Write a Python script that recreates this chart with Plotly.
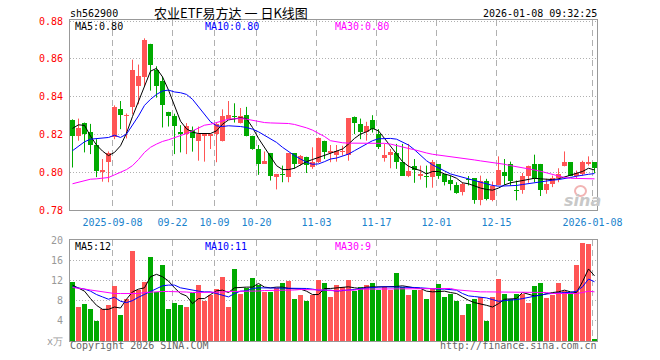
import plotly.graph_objects as go

# ---------------- data ----------------
opens = [0.8275,0.8193,0.8260,0.8214,0.8144,0.8000,0.8053,0.8184,0.8333,0.8298,
         0.8347,0.8456,0.8505,0.8680,0.8540,0.8484,0.8320,0.8298,0.8214,0.8202,
         0.8223,0.8165,0.8193,0.8193,0.8202,0.8165,0.8284,0.8293,0.8263,0.8302,
         0.8193,0.8123,0.8044,0.8102,0.7974,0.7991,0.7974,0.8100,0.8044,0.8082,
         0.8026,0.8053,0.8167,0.8100,0.8091,0.8105,0.8091,0.8295,0.8253,0.8214,
         0.8275,0.8202,0.8074,0.8091,0.8100,0.8053,0.7982,0.8035,0.7982,0.7982,
         0.7974,0.8042,0.7991,0.7960,0.7930,0.7895,0.7961,0.7968,0.7851,0.7953,
         0.7851,0.7930,0.8000,0.8044,0.7900,0.7904,0.7982,0.8044,0.8044,0.7904,
         0.7939,0.7968,0.8035,0.8053,0.7979,0.7991,0.8044,0.8053]
highs = [0.8280,0.8284,0.8263,0.8256,0.8175,0.8070,0.8110,0.8354,0.8377,0.8311,
         0.8596,0.8570,0.8709,0.8680,0.8561,0.8507,0.8320,0.8310,0.8249,0.8260,
         0.8242,0.8242,0.8205,0.8205,0.8260,0.8333,0.8377,0.8365,0.8340,0.8346,
         0.8193,0.8144,0.8110,0.8102,0.7991,0.8035,0.8100,0.8100,0.8091,0.8082,
         0.8132,0.8184,0.8167,0.8144,0.8144,0.8140,0.8286,0.8295,0.8284,0.8267,
         0.8302,0.8228,0.8150,0.8123,0.8150,0.8150,0.8150,0.8070,0.8035,0.8035,
         0.8065,0.8042,0.7991,0.7982,0.7947,0.7947,0.7980,0.7968,0.7982,0.7965,
         0.7951,0.8084,0.8070,0.8056,0.7956,0.7996,0.8035,0.8093,0.8044,0.7965,
         0.7982,0.8021,0.8110,0.8053,0.8009,0.8061,0.8084,0.8053]
lows = [0.8025,0.8167,0.8105,0.8096,0.7974,0.7950,0.7947,0.8175,0.8228,0.8179,
        0.8307,0.8360,0.8456,0.8432,0.8395,0.8237,0.8242,0.8096,0.8105,0.8096,
        0.8109,0.8061,0.8056,0.8123,0.8053,0.8163,0.8281,0.8263,0.8258,0.8190,
        0.8119,0.7986,0.8044,0.7956,0.7909,0.7947,0.7947,0.8018,0.8035,0.7996,
        0.8018,0.8049,0.8070,0.8053,0.8056,0.8088,0.8061,0.8202,0.8175,0.8167,
        0.8210,0.8123,0.8056,0.8021,0.8018,0.7982,0.7974,0.7944,0.7961,0.7918,
        0.7918,0.7965,0.7930,0.7904,0.7886,0.7877,0.7930,0.7833,0.7825,0.7851,
        0.7846,0.7930,0.7933,0.7930,0.7851,0.7886,0.7944,0.7947,0.7874,0.7886,
        0.7921,0.7947,0.8031,0.7979,0.7968,0.7982,0.8035,0.7996]
closes = [0.8193,0.8233,0.8202,0.8144,0.8004,0.8014,0.8100,0.8347,0.8302,0.8303,
          0.8539,0.8509,0.8698,0.8567,0.8456,0.8354,0.8300,0.8244,0.8200,0.8246,
          0.8179,0.8202,0.8205,0.8205,0.8254,0.8300,0.8302,0.8290,0.8298,0.8193,
          0.8123,0.8044,0.8061,0.7982,0.7991,0.7986,0.8100,0.8044,0.8088,0.8039,
          0.8053,0.8181,0.8105,0.8114,0.8114,0.8114,0.8286,0.8260,0.8214,0.8246,
          0.8228,0.8135,0.8091,0.8105,0.8053,0.7982,0.8004,0.8014,0.7993,0.7975,
          0.8056,0.7982,0.7947,0.7939,0.7891,0.7939,0.7958,0.7851,0.7956,0.7860,
          0.7925,0.8012,0.7982,0.7951,0.7898,0.7982,0.8035,0.7965,0.7904,0.7939,
          0.7968,0.7991,0.8056,0.7982,0.7996,0.8053,0.8053,0.8021]
ma5 = [0.8232,0.8251,0.8248,0.8191,0.8144,0.8112,0.8088,0.8105,0.8140,0.8207,
       0.8295,0.8372,0.8458,0.8535,0.8550,0.8505,0.8435,0.8353,0.8270,0.8230,
       0.8212,0.8205,0.8205,0.8205,0.8219,0.8254,0.8277,0.8284,0.8288,0.8284,
       0.8237,0.8179,0.8132,0.8084,0.8035,0.8014,0.8014,0.8021,0.8039,0.8056,
       0.8067,0.8079,0.8091,0.8100,0.8114,0.8123,0.8149,0.8179,0.8202,0.8214,
       0.8232,0.8219,0.8179,0.8140,0.8096,0.8056,0.8032,0.8018,0.8009,0.7991,
       0.8004,0.8004,0.7991,0.7982,0.7968,0.7944,0.7939,0.7926,0.7916,0.7909,
       0.7905,0.7916,0.7933,0.7944,0.7951,0.7958,0.7965,0.7968,0.7965,0.7963,
       0.7961,0.7965,0.7975,0.7982,0.7995,0.8004,0.8021,0.8012]
ma10 = [0.8114,0.8140,0.8161,0.8175,0.8179,0.8179,0.8184,0.8196,0.8184,0.8202,
        0.8249,0.8298,0.8354,0.8386,0.8412,0.8430,0.8435,0.8425,0.8421,0.8412,
        0.8386,0.8347,0.8304,0.8267,0.8246,0.8242,0.8246,0.8246,0.8242,0.8237,
        0.8228,0.8214,0.8196,0.8179,0.8158,0.8132,0.8109,0.8088,0.8070,0.8053,
        0.8042,0.8044,0.8056,0.8070,0.8075,0.8084,0.8096,0.8114,0.8132,0.8149,
        0.8167,0.8177,0.8179,0.8179,0.8175,0.8161,0.8144,0.8119,0.8091,0.8061,
        0.8039,0.8021,0.8007,0.7991,0.7982,0.7975,0.7965,0.7954,0.7944,0.7935,
        0.7930,0.7926,0.7926,0.7926,0.7930,0.7935,0.7940,0.7947,0.7951,0.7954,
        0.7958,0.7961,0.7965,0.7972,0.7979,0.7986,0.7989,0.7993]
ma30 = [0.7939,0.7947,0.7956,0.7963,0.7965,0.7967,0.7972,0.7986,0.8000,0.8014,
        0.8035,0.8067,0.8105,0.8132,0.8149,0.8163,0.8172,0.8182,0.8193,0.8205,
        0.8219,0.8233,0.8249,0.8254,0.8263,0.8272,0.8281,0.8283,0.8284,0.8281,
        0.8274,0.8268,0.8263,0.8261,0.8260,0.8260,0.8258,0.8253,0.8246,0.8235,
        0.8223,0.8207,0.8189,0.8167,0.8160,0.8156,0.8154,0.8154,0.8154,0.8154,
        0.8154,0.8154,0.8153,0.8149,0.8140,0.8133,0.8126,0.8119,0.8109,0.8102,
        0.8095,0.8091,0.8088,0.8084,0.8081,0.8075,0.8070,0.8065,0.8060,0.8056,
        0.8053,0.8049,0.8042,0.8035,0.8030,0.8023,0.8018,0.8012,0.8005,0.7996,
        0.7986,0.7979,0.7972,0.7968,0.7967,0.7965,0.7965,0.7965]
volumes = [11.67,6.8,7.4,6.27,4.0,6.4,7.07,10.87,5.2,8.3,
           17.87,10.07,11.67,16.6,9.73,15.07,6.4,7.6,7.07,6.8,
           9.6,11.07,7.87,9.2,10.27,12.6,6.8,14.2,9.4,10.53,
           12.4,11.07,9.73,9.73,10.53,11.47,11.87,8.4,9.2,7.87,
           9.2,12.0,11.4,8.67,11.0,10.67,12.0,9.93,10.67,11.0,
           11.4,10.07,10.67,10.07,13.47,10.73,9.2,10.07,10.07,8.4,
           10.2,11.2,8.8,9.4,8.0,5.2,7.4,8.4,8.73,4.0,
           8.73,12.2,9.4,8.4,9.4,9.4,7.6,10.8,11.4,8.6,
           9.2,11.4,10.0,9.6,15.0,19.4,19.2,0.4]
vma5 = [11.07,10.4,9.87,8.4,7.07,6.27,6.27,6.73,6.53,8.27,
        9.73,10.27,10.53,12.73,13.2,12.73,11.87,10.53,9.4,8.93,
        7.4,8.4,8.4,9.2,9.93,10.07,9.6,10.53,10.67,10.67,
        10.67,11.4,10.67,10.53,10.67,10.67,10.4,10.4,10.27,9.87,
        9.2,9.2,10.4,10.4,10.53,10.73,10.73,10.53,10.4,10.67,
        10.67,10.67,10.67,10.67,10.8,10.93,10.67,10.53,10.4,9.87,
        9.73,9.87,9.87,9.6,9.4,8.73,8.07,7.6,7.4,7.07,
        6.73,7.4,8.27,8.27,8.4,9.6,9.2,8.93,9.07,9.4,
        9.6,9.73,10.07,9.73,9.6,11.73,14.27,12.9]
vma10 = [10.73,10.53,10.27,9.87,9.2,8.73,8.27,8.67,7.87,7.6,
         8.0,8.67,9.2,9.73,10.4,10.93,11.07,11.07,10.53,10.27,
         10.07,9.87,9.73,9.73,9.4,9.07,8.73,9.4,9.87,9.93,
         10.4,10.53,10.53,10.53,10.53,10.53,10.53,10.53,10.53,10.4,
         10.27,10.07,10.07,10.07,9.87,9.93,10.0,10.2,10.4,10.53,
         10.67,10.67,10.73,10.73,10.73,10.73,10.67,10.6,10.53,10.4,
         10.27,10.27,10.27,10.2,10.07,9.4,8.93,8.8,8.73,8.53,
         8.2,7.87,8.0,8.07,8.2,8.4,8.67,8.8,9.07,9.33,
         9.4,9.53,9.6,9.6,9.87,10.73,12.27,11.73]
vma30 = [10.6,10.5,10.3,10.1,9.9,9.7,9.5,9.4,9.4,9.4,
         9.4,9.4,9.6,9.7,9.8,9.8,9.8,9.8,9.7,9.7,
         9.6,9.6,9.6,9.6,9.7,9.7,9.8,9.8,9.8,9.9,
         9.9,9.9,10.0,10.0,10.0,10.1,10.1,10.1,10.2,10.2,
         10.2,10.2,10.1,10.0,9.93,10.07,10.07,10.07,10.27,10.27,
         10.27,10.27,10.27,10.27,10.27,10.27,10.27,10.27,10.27,10.4,
         10.4,10.4,10.4,10.4,10.13,10.0,9.87,9.73,9.73,9.73,
         9.73,9.73,9.73,9.73,9.73,9.73,9.6,9.6,9.6,9.6,
         9.4,9.4,9.4,9.4,9.4,9.6,9.87,9.73]
tick_index = [7, 17, 24, 31, 41, 51, 61, 71, 87]
tick_labels = ["2025-09-08", "09-22", "10-09", "10-20", "11-03", "11-17", "12-01", "12-15", "2026-01-08"]
price_ticks = [0.78, 0.80, 0.82, 0.84, 0.86, 0.88]
volume_ticks = [0, 4, 8, 12, 16, 20]
volume_tick_labels = ["x万", "4", "8", "12", "16", "20"]
title_code = "sh562900"
title_name = "农业ETF易方达 一 日K线图"
timestamp = "2026-01-08 09:32:25"
legend_price = ["MA5:0.80", "MA10:0.80", "MA30:0.80"]
legend_volume = ["MA5:12", "MA10:11", "MA30:9"]

# ---------------- styling ----------------
RED = "#ff5555"
GREEN = "#00aa00"
MONO = "DejaVu Sans Mono"
CJK = "Noto Sans CJK SC"
W, H = 660, 360
L, R, T, B = 70, 63, 20, 19
PW, PH = W - L - R, H - T - B


def fx(px):  # pixel x -> paper
    return (px - L) / PW


def fy(py):  # pixel y -> paper
    return (H - B - py) / PH


n = len(closes)
idx = list(range(n))
up = [c >= o for o, c in zip(opens, closes)]
MIN_BODY = 0.0006

fig = go.Figure()

# wicks
for flag, col in ((True, RED), (False, GREEN)):
    wx, wy = [], []
    for i in idx:
        if up[i] == flag:
            wx += [i, i, None]
            wy += [lows[i], highs[i], None]
    fig.add_trace(go.Scatter(x=wx, y=wy, mode="lines", line=dict(color=col, width=1),
                             xaxis="x", yaxis="y", hoverinfo="skip", showlegend=False))

# bodies
for flag, col in ((True, RED), (False, GREEN)):
    bx, bb, bh = [], [], []
    for i in idx:
        if up[i] == flag:
            lo = min(opens[i], closes[i])
            hgt = max(abs(closes[i] - opens[i]), MIN_BODY)
            bx.append(i)
            bb.append(lo)
            bh.append(hgt)
    fig.add_trace(go.Bar(x=bx, y=bh, base=bb, width=0.833, marker=dict(color=col, line=dict(width=0)),
                         xaxis="x", yaxis="y", showlegend=False, hoverinfo="skip"))

for series, col in ((ma5, "#000000"), (ma10, "#0000ff"), (ma30, "#ff00ff")):
    fig.add_trace(go.Scatter(x=idx, y=series, mode="lines", line=dict(color=col, width=1),
                             xaxis="x", yaxis="y", showlegend=False, hoverinfo="skip"))

# volume bars
for flag, col in ((True, RED), (False, GREEN)):
    vx = [i for i in idx if up[i] == flag]
    vy = [volumes[i] for i in vx]
    fig.add_trace(go.Bar(x=vx, y=vy, width=0.833, marker=dict(color=col, line=dict(width=0)),
                         xaxis="x2", yaxis="y2", showlegend=False, hoverinfo="skip"))

for series, col in ((vma5, "#000000"), (vma10, "#0000ff"), (vma30, "#ff00ff")):
    fig.add_trace(go.Scatter(x=idx, y=series, mode="lines", line=dict(color=col, width=1),
                             xaxis="x2", yaxis="y2", showlegend=False, hoverinfo="skip"))

tickpos = [t - 0.333 for t in tick_index]
xr = [-0.4167, n - 0.5833]
grid_col = "#b0b0b0"
frame_col = "#999999"

common_x = dict(range=xr, tickmode="array", tickvals=tickpos, showgrid=True, gridcolor=grid_col,
                griddash="6px,4px", gridwidth=1, zeroline=False, showline=True, mirror=True,
                linecolor=frame_col, linewidth=1, ticks="", fixedrange=True, automargin=False)

fig.update_layout(
    width=W, height=H,
    margin=dict(l=L, r=R, t=T, b=B, pad=0, autoexpand=False),
    paper_bgcolor="white", plot_bgcolor="white",
    barmode="overlay", bargap=0,
    showlegend=False,
    xaxis=dict(domain=[0, 1], anchor="y", ticktext=tick_labels, ticklabelstandoff=3,
               tickfont=dict(family=MONO, size=10, color="#1a82cc"), **common_x),
    xaxis2=dict(domain=[0, 1], anchor="y2", matches="x", showticklabels=False, **common_x),
    yaxis=dict(domain=[fy(210), 1.0], anchor="x", range=[0.78, 0.8806],
               tickmode="array", tickvals=price_ticks, ticktext=["%.2f" % v for v in price_ticks],
               tickfont=dict(family=MONO, size=10, color="#ff0000"),
               showgrid=True, gridcolor=grid_col, griddash="1px,2px", zeroline=False,
               showline=True, mirror=True, linecolor=frame_col, linewidth=1, ticks="",
               ticklabelstandoff=4, automargin=False, fixedrange=True),
    yaxis2=dict(domain=[0, fy(240)], anchor="x2", range=[0, 20],
                tickmode="array", tickvals=volume_ticks, ticktext=volume_tick_labels,
                tickfont=dict(family=MONO, size=10, color="#999999"),
                showgrid=True, gridcolor=grid_col, griddash="1px,2px", zeroline=False,
                showline=True, mirror=True, linecolor=frame_col, linewidth=1, ticks="",
                ticklabelstandoff=4, automargin=False, fixedrange=True),
)


def ann(text, px, py, color="#000000", size=10, anchor="left", family=MONO, **kw):
    fig.add_annotation(text=text, x=fx(px), y=fy(py), xref="paper", yref="paper",
                       xanchor=anchor, yanchor="middle", showarrow=False, borderpad=0,
                       font=dict(family=family, size=size, color=color), **kw)


ann(title_code, 69, 13)
ann(title_name, 231, 12.5, size=13, anchor="center", family=CJK)
ann(timestamp, 598, 13, anchor="right")
for txt, px, col in zip(legend_price, (74, 204, 334), ("#000000", "#0000ff", "#ff00ff")):
    ann(txt, px, 26.5, color=col)
for txt, px, col in zip(legend_volume, (74, 204, 334), ("#000000", "#0000ff", "#ff00ff")):
    ann(txt, px, 246, color=col)
ann("Copyright 2026 SINA.COM", 69, 346, color="#666666")
ann("http://finance.sina.com.cn", 598, 346, color="#666666", anchor="right")

# sina watermark (logo ring + word)
fig.add_shape(type="circle", xref="paper", yref="paper",
              x0=fx(575), x1=fx(586), y0=fy(196), y1=fy(186),
              line=dict(color="#f2b4b4", width=2), fillcolor="rgba(0,0,0,0)")
ann("<b><i>sina</i></b>", 582, 201, color="#c8c8c8", size=16, anchor="center", family="DejaVu Sans")

fig.write_html("out.html", config={"displayModeBar": False, "staticPlot": True},
               post_script="document.body.style.margin='0';")
